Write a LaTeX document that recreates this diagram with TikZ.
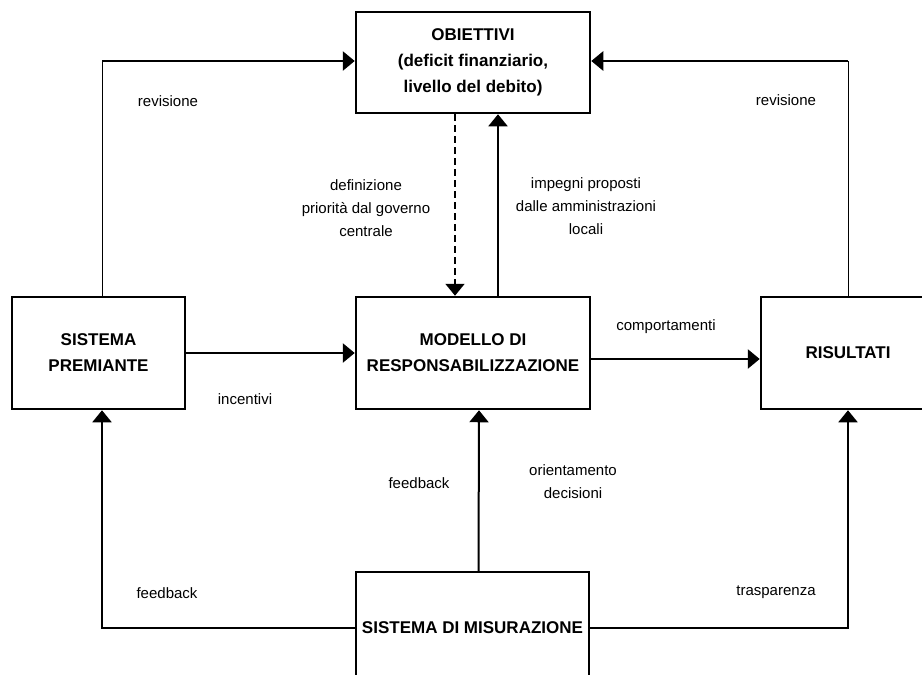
\documentclass[tikz,border=0pt]{standalone}
\usepackage{fontspec}
\setmainfont{Liberation Sans}
\usetikzlibrary{arrows.meta}
\begin{document}
\begin{tikzpicture}[x=1pt, y=-1pt, font=\fontsize{15}{23}\selectfont, line join=miter, >={Triangle[length=12pt,width=19pt]}]
		\tikzset{box/.style={draw, line width=2.5pt, inner sep=0pt, align=center, font=\fontsize{17}{26}\selectfont\bfseries},
			lbl/.style={align=center, inner sep=0pt},
			thinlink/.style={line width=1pt},
			link/.style={line width=2pt},
			mainlink/.style={line width=2.8pt}}
		\useasboundingbox (0,0) rectangle (922,675);
		\clip (0,0) rectangle (922,675);
		\node[box, minimum width=234pt, minimum height=101pt] (obiettivi) at (473,62.5) {OBIETTIVI\\(deficit finanziario,\\livello del debito)};
		\node[box, minimum width=173pt, minimum height=112pt] (premiante) at (98.5,353) {SISTEMA\\PREMIANTE};
		\node[box, minimum width=234pt, minimum height=112pt] (modello) at (473,353) {MODELLO DI\\RESPONSABILIZZAZIONE};
		\node[box, minimum width=174pt, minimum height=112pt] (risultati) at (848,353) {RISULTATI};
		\node[box, minimum width=233pt, minimum height=112pt] (misura) at (472.5,628) {SISTEMA DI MISURAZIONE};
		\coordinate (revL) at (102,61);
		\coordinate (revR) at (848,61);
		\draw[thinlink] ([xshift=3.5pt]premiante.north) -- (revL);
		\draw[mainlink,->] (revL) -- (revL -| obiettivi.west);
		\draw[thinlink] (risultati.north) -- (revR);
		\draw[mainlink,->] (revR) -- (revR -| obiettivi.east);
		\draw[link,->,dash pattern=on 7pt off 4pt] ([xshift=-18pt]obiettivi.south) -- ([xshift=-18pt]modello.north);
		\draw[link,->] ([xshift=25pt]modello.north) -- ([xshift=25pt]obiettivi.south);
		\draw[mainlink,->] (premiante.east) -- (modello.west);
		\draw[mainlink,->] ([yshift=-6pt]modello.east) -- ([yshift=-6pt]risultati.west);
		\draw[link,->] ([xshift=6pt]misura.north) -- ([xshift=6pt]modello.south);
		\draw[link,->] (misura.west) -| ([xshift=3.5pt]premiante.south);
		\draw[link,->] (misura.east) -| (risultati.south);
		\node[lbl] (revisione1) at (168,101) {revisione};
		\node[lbl] (revisione2) at (786,100) {revisione};
		\node[lbl] (definizione) at (366,208) {definizione\\priorità dal governo\\centrale};
		\node[lbl] (impegni) at (586,206) {impegni proposti\\dalle amministrazioni\\locali};
		\node[lbl] (incentivi) at (245,399) {incentivi};
		\node[lbl] (comportamenti) at (666,327) {comportamenti};
		\node[lbl] (feedback1) at (419,483) {feedback};
		\node[lbl] (orientamento) at (573,482) {orientamento\\decisioni};
		\node[lbl] (feedback2) at (167,593) {feedback};
		\node[lbl] (trasparenza) at (776,592) {trasparenza};
\end{tikzpicture}
\end{document}
